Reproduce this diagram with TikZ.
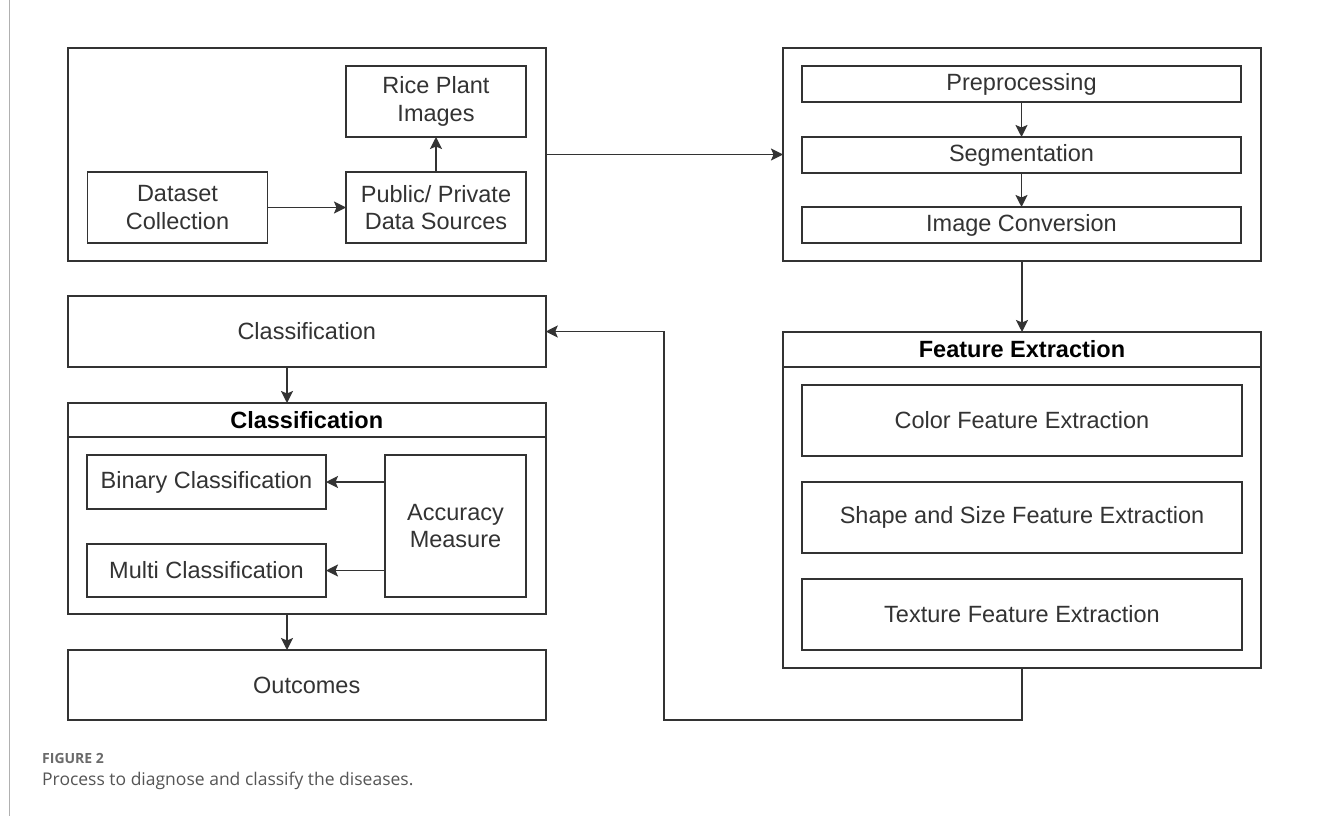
\documentclass[tikz,border=0pt]{standalone}
\usepackage{fontspec}
\setmainfont{Liberation Sans}
\newfontfamily\capfont{Open Sans}
\usetikzlibrary{arrows.meta,calc}
\definecolor{linec}{HTML}{333333}
\definecolor{txtc}{HTML}{333333}
\definecolor{capc}{HTML}{555555}
\definecolor{figc}{HTML}{6A6A6A}
\definecolor{borderc}{HTML}{B0B0B0}
\begin{document}
\begin{tikzpicture}[x=1pt,y=-1pt,
  box/.style={draw=linec, line width=1.7pt, inner sep=0pt, outer sep=0pt, align=center,
    text=txtc, font=\fontsize{23.5}{27.5}\selectfont, fill=white},
  head/.style={box, text=black, font=\fontsize{23.5}{27.5}\selectfont\bfseries},
  arr/.style={draw=linec, line width=1.7pt, -{Stealth[length=12pt,width=12pt,inset=2.5pt]}}]
\useasboundingbox (0,0) rectangle (1322,816);
\fill[white] (0,0) rectangle (1322,816);
\draw[borderc, line width=1.5pt] (9.5,0) -- (9.5,816);

% top-left group
\node[box, minimum width=478, minimum height=213] (outer1) at (307,154.5) {};
\node[box, minimum width=180, minimum height=71] (rice) at (436,101.5) {Rice Plant\\Images};
\node[box, minimum width=180, minimum height=71] (pub) at (436,207.5) {Public/ Private\\Data Sources};
\node[box, minimum width=180, minimum height=71] (data) at (177.5,207.5) {Dataset\\Collection};

% top-right group
\node[box, minimum width=478, minimum height=213] (outer2) at (1022,154.5) {};
\node[box, minimum width=439, minimum height=36] (pre) at (1021.5,84) {Preprocessing};
\node[box, minimum width=439, minimum height=36] (seg) at (1021.5,155) {Segmentation};
\node[box, minimum width=439, minimum height=36] (conv) at (1021.5,225) {Image Conversion};

% feature extraction
\node[box, minimum width=478, minimum height=336, anchor=north] (fe) at (1022,332) {};
\node[head, minimum width=478, minimum height=35, anchor=north] (feh) at (1022,332) {Feature Extraction};
\node[box, minimum width=440, minimum height=71] (color) at (1022,420.5) {Color Feature Extraction};
\node[box, minimum width=440, minimum height=71] (shape) at (1022,517.5) {Shape and Size Feature Extraction};
\node[box, minimum width=440, minimum height=71] (texture) at (1022,614.5) {Texture Feature Extraction};

% classification
\node[box, minimum width=478, minimum height=71] (cls1) at (306.75,331.5) {Classification};
\node[box, minimum width=478, minimum height=211, anchor=north] (clsc) at (306.75,403) {};
\node[head, minimum width=478, minimum height=34, anchor=north] (clsh) at (306.75,403) {Classification};
\node[box, minimum width=239, minimum height=54] (bin) at (206.5,482) {Binary Classification};
\node[box, minimum width=239, minimum height=53] (multi) at (206.5,570.5) {Multi Classification};
\node[box, minimum width=141, minimum height=142] (acc) at (455.5,526) {Accuracy\\Measure};
\node[box, minimum width=478, minimum height=70] (out) at (306.75,685) {Outcomes};

% connectors
\coordinate (ax) at (287,0);
\coordinate (fbc) at (664,720);
\draw[arr] (data) -- (pub);
\draw[arr] (pub) -- (rice);
\draw[arr] (outer1.east) -- (outer2.west);
\draw[arr] (pre) -- (seg);
\draw[arr] (seg) -- (conv);
\draw[arr] (outer2.south) -- (feh.north);
\draw[arr] (fe.south) |- (fbc) |- (cls1.east);
\draw[arr] (cls1.south -| ax) -- (clsh.north -| ax);
\draw[arr] (clsc.south -| ax) -- (out.north -| ax);
\draw[arr] (acc.west |- bin.east) -- (bin.east);
\draw[arr] (acc.west |- multi.east) -- (multi.east);

% caption
\node[anchor=base west, inner sep=0pt, text=figc, font=\capfont\bfseries\fontsize{14}{16}\selectfont] (fig) at (42,763) {FIGURE 2};
\node[anchor=base west, inner sep=0pt, text=capc, font=\capfont\fontsize{17.5}{20}\selectfont] (cap) at (42,785) {Process to diagnose and classify the diseases.};
\end{tikzpicture}
\end{document}
